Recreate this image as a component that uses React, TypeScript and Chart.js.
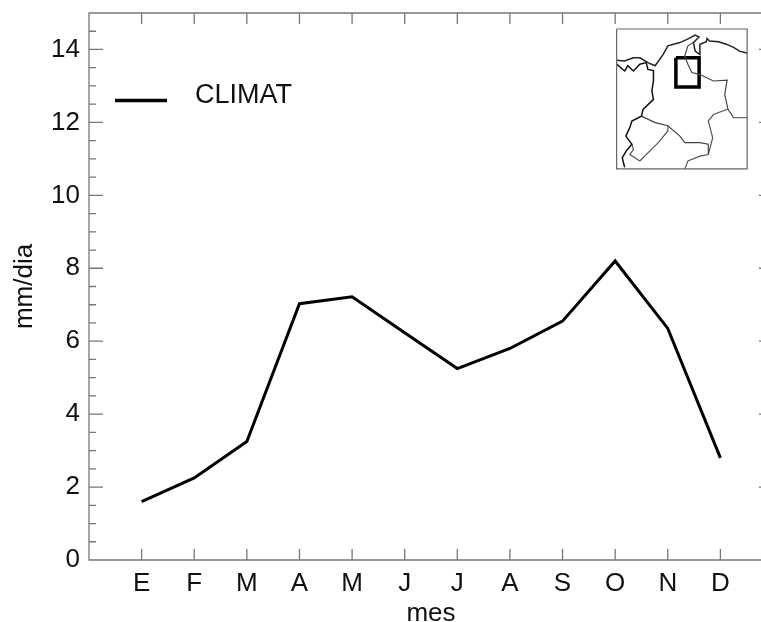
import React, { useEffect, useRef } from "react";
import { Chart, registerables } from "chart.js";

Chart.register(...registerables);

const months = ["E", "F", "M", "A", "M", "J", "J", "A", "S", "O", "N", "D"];
const climat = [1.6, 2.25, 3.25, 7.03, 7.22, 6.23, 5.25, 5.8, 6.55, 8.2, 6.35, 2.8];
const legendLabel = "CLIMAT";

// inset map outlines, as [longitude, latitude]
const coastNorth = [[-81.9, 9.4], [-80.9, 9.3], [-79.8, 9.7], [-79, 9.7], [-78, 9.1], [-77.1, 8.7], [-76.1, 10.1], [-75.5, 11.2], [-74, 11.6], [-73.1, 12], [-72.1, 12.55], [-71.6, 12.3], [-72.3, 11.6], [-72.1, 10.55], [-71.5, 10.1], [-71.5, 11.4], [-70.7, 11.7], [-70.6, 12.1], [-70.3, 11.8], [-69.2, 11.7], [-68.2, 11.4], [-67.3, 11], [-66.5, 10.5], [-65.6, 10.3]];
const coastPacific = [[-81.9, 8.9], [-80.9, 8.05], [-80.5, 8.7], [-79.8, 8.05], [-79, 8.9], [-78.2, 9.1], [-78, 8.25], [-77.3, 8.1], [-77.3, 6.8], [-77.5, 5.55], [-77.3, 4.5], [-78.6, 3.25], [-78.8, 2.4], [-80, 1.8], [-80.25, 1], [-80.75, -0.1], [-80, -1.1], [-80.7, -1.95], [-81.2, -2.8], [-80.9, -4]];
const borderVenezuela = [[-72.3, 11.6], [-73, 11.2], [-73.4, 9.9], [-73, 8.9], [-72.5, 7.85], [-71.5, 7.6], [-69.8, 6.8], [-68.1, 6.9], [-68.4, 5.1], [-68, 3.3], [-67.3, 2.2], [-65.6, 2.2]];
const borderEcuadorPeru = [[-78.8, 2.4], [-77.1, 1.6], [-75.5, 1.2], [-74, -0.1], [-73.4, -0.9], [-71.5, -0.9], [-70.45, -1.1], [-70.45, -2.4]];
const borderEcuadorSouth = [[-80, -1.1], [-79.8, -1.75], [-80.25, -2.4], [-79, -3.2], [-76.7, -0.9], [-75.5, 0.55], [-75.5, 1.2]];
const borderBrazil = [[-73.4, -4.25], [-73, -3.2], [-71.5, -2.6], [-70.45, -2.4], [-69.9, -0.3], [-70.45, 1.8], [-69.8, 2.6], [-68, 3.3]];
const regionBox = [[-74.5, 9.7], [-71.6, 9.7], [-71.6, 6.05], [-74.5, 6.05], [-74.5, 9.7]];
const insetFrame = [[-81.9, 13.3], [-65.6, 13.3], [-65.6, -4.2], [-81.9, -4.2], [-81.9, 13.3]];

const FONT = "'Liberation Sans', Arial, sans-serif";
const AXIS = "#777777";
const SIZE = 26;

const pts = (a: number[][]) => a.map(([x, y]) => ({ x, y }));

const mapSet = (data: number[][], color: string, width: number) => ({
  data: pts(data),
  xAxisID: "mapX",
  yAxisID: "mapY",
  borderColor: color,
  borderWidth: width,
  pointRadius: 0,
  tension: 0,
  order: 2,
  borderJoinStyle: "miter" as const,
});

const frameTicks = {
  id: "frameTicks",
  afterDatasetsDraw(chart: any) {
    const { ctx, chartArea: a, scales } = chart;
    ctx.save();
    ctx.strokeStyle = AXIS;
    ctx.lineWidth = 1.3;
    ctx.beginPath();
    ctx.rect(a.left, a.top, a.right - a.left, a.bottom - a.top);
    for (let i = 1; i <= months.length; i++) {
      const x = scales.x.getPixelForValue(i);
      ctx.moveTo(x, a.bottom);
      ctx.lineTo(x, a.bottom - 11);
      ctx.moveTo(x, a.top);
      ctx.lineTo(x, a.top + 11);
    }
    scales.y.ticks.forEach((t: any) => {
      const y = scales.y.getPixelForValue(t.value);
      const len = t.value % 2 === 0 ? 14 : 7;
      ctx.moveTo(a.left, y);
      ctx.lineTo(a.left + len, y);
      ctx.moveTo(a.right, y);
      ctx.lineTo(a.right - len, y);
    });
    ctx.stroke();

    // legend
    const ly = scales.y.getPixelForValue(12.6);
    ctx.strokeStyle = "#000";
    ctx.lineWidth = 3.5;
    ctx.beginPath();
    ctx.moveTo(115, ly);
    ctx.lineTo(167, ly);
    ctx.stroke();
    ctx.fillStyle = "#111";
    ctx.font = `27px ${FONT}`;
    ctx.textBaseline = "middle";
    ctx.textAlign = "left";
    ctx.fillText(legendLabel, 195, ly - 5);
    ctx.restore();
  },
};

export default function App() {
  const ref = useRef<HTMLCanvasElement>(null);
  useEffect(() => {
    if (!ref.current) return;
    const chart = new Chart(ref.current, {
      type: "line",
      plugins: [frameTicks],
      data: {
        datasets: [
          {
            label: legendLabel,
            data: climat.map((y, i) => ({ x: i + 1, y })),
            xAxisID: "x",
            yAxisID: "y",
            borderColor: "#000",
            borderWidth: 3,
            pointRadius: 0,
            tension: 0,
            order: 1,
            borderJoinStyle: "miter",
          },
          mapSet(insetFrame, "#666666", 1.2),
          mapSet(coastNorth, "#222222", 1.5),
          mapSet(coastPacific, "#111111", 1.5),
          mapSet(borderVenezuela, "#444444", 1.2),
          mapSet(borderEcuadorPeru, "#444444", 1.2),
          mapSet(borderEcuadorSouth, "#555555", 1.2),
          mapSet(borderBrazil, "#555555", 1.2),
          mapSet(regionBox, "#000000", 3.5),
        ],
      },
      options: {
        responsive: false,
        animation: false,
        layout: { padding: { top: 13, left: 0, right: 0, bottom: 0 } },
        plugins: { legend: { display: false }, tooltip: { enabled: false } },
        scales: {
          x: {
            type: "linear",
            min: 0,
            max: 13,
            grid: { display: false },
            border: { display: false },
            ticks: {
              stepSize: 1,
              autoSkip: false,
              maxRotation: 0,
              padding: 0,
              color: "#111",
              font: { family: FONT, size: SIZE },
              callback: (v: any) => months[Number(v) - 1] ?? "",
            },
            title: { display: true, text: "mes", color: "#111", font: { family: FONT, size: SIZE }, padding: { top: 0, bottom: -7 } },
            afterFit(s: any) {
              s.height = 62;
              s.paddingLeft = 0;
              s.paddingRight = 0;
            },
          },
          y: {
            min: 0,
            max: 15,
            grid: { display: false },
            border: { display: false },
            ticks: {
              stepSize: 0.5,
              autoSkip: false,
              padding: 1,
              color: "#111",
              font: { family: FONT, size: SIZE },
              callback: (v: any) => (Number(v) % 2 === 0 ? String(v) : ""),
            },
            title: { display: true, text: "mm/dia", color: "#111", font: { family: FONT, size: SIZE }, padding: 9 },
            afterFit(s: any) {
              s.width = 89;
              s.paddingTop = 0;
              s.paddingBottom = 0;
            },
          },
          mapX: { type: "linear", display: false, min: -147.8, max: -62.37 },
          mapY: { type: "linear", display: false, min: -53.1, max: 15.3 },
        },
      },
    } as any);
    return () => chart.destroy();
  }, []);
  return (
    <div style={{ position: "fixed", left: 0, top: 0, width: 761, height: 622, overflow: "hidden", background: "#fff" }}>
      <div style={{ width: 773, height: 622 }}>
        <canvas ref={ref} width={773} height={622} style={{ display: "block" }} />
      </div>
    </div>
  );
}
